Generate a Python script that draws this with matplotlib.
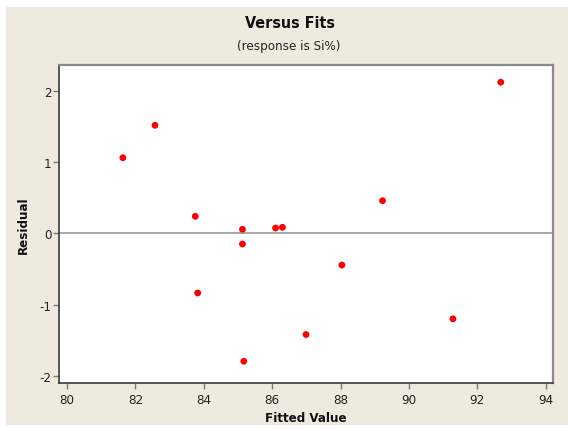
import matplotlib
matplotlib.use("Agg")
import matplotlib.pyplot as plt
from matplotlib.patches import Rectangle

fitted = [81.63, 82.57, 83.75, 83.82, 85.13, 85.13, 85.17, 86.10, 86.30, 86.99, 88.04, 89.23, 91.29, 92.69]
residual = [1.06, 1.515, 0.238, -0.837, 0.056, -0.15, -1.795, 0.074, 0.084, -1.42, -0.445, 0.457, -1.20, 2.12]
xticks = [80, 82, 84, 86, 88, 90, 92, 94]
yticks = [-2, -1, 0, 1, 2]

plt.rcParams['font.family'] = ['DejaVu Sans']
plt.rcParams['font.stretch'] = 'condensed'
plt.rcParams['axes.unicode_minus'] = False

W, H = 568, 431
fig = plt.figure(figsize=(W / 100, H / 100), dpi=100)
fig.patch.set_facecolor('white')
fig.patches.append(Rectangle((6 / W, 1 - 426 / H), 1 - 6 / W, (426 - 8) / H,
                             transform=fig.transFigure,
                             facecolor='#EEEAE0', edgecolor='none', zorder=-10))

ax = fig.add_axes([59.3 / W, 1 - 384.3 / H, (552.7 - 59.3) / W, (384.3 - 65.7) / H])
ax.set_facecolor('white')
ax.axhline(0, color='#9A9A9A', lw=1.2, zorder=1)
ax.scatter(fitted, residual, s=24, color='#FF0000', edgecolors='none', zorder=3)

ax.set_xlim(79.77, 94.21)
ax.set_ylim(-2.104, 2.365)
ax.set_xticks(xticks)
ax.set_yticks(yticks)
ax.tick_params(axis='both', direction='out', length=4, width=1, color='#7A7A7A',
               labelsize=9.5, labelcolor='#222222')
ax.tick_params(axis='x', pad=3)
ax.tick_params(axis='y', pad=1.5)

for side in ['left', 'bottom']:
    ax.spines[side].set_color('#3A3A3A')
    ax.spines[side].set_linewidth(1.2)
for side in ['top', 'right']:
    ax.spines[side].set_color('#8A8A8A')
    ax.spines[side].set_linewidth(1.6)

fig.text(290 / W, 1 - 23.3 / H, 'Versus Fits', ha='center', va='center',
         fontsize=11.5, fontweight='bold', color='#111111')
fig.text(289 / W, 1 - 46.7 / H, '(response is Si%)', ha='center', va='center',
         fontsize=9.5, color='#222222')
fig.text(306 / W, 1 - 419 / H, 'Fitted Value', ha='center', va='center',
         fontsize=9.5, fontweight='bold', color='#111111')
fig.text(23.3 / W, 1 - 225 / H, 'Residual', ha='center', va='center', rotation=90,
         fontsize=9.5, fontweight='bold', color='#111111')

fig.savefig('out.png', dpi=100, facecolor=fig.get_facecolor())
